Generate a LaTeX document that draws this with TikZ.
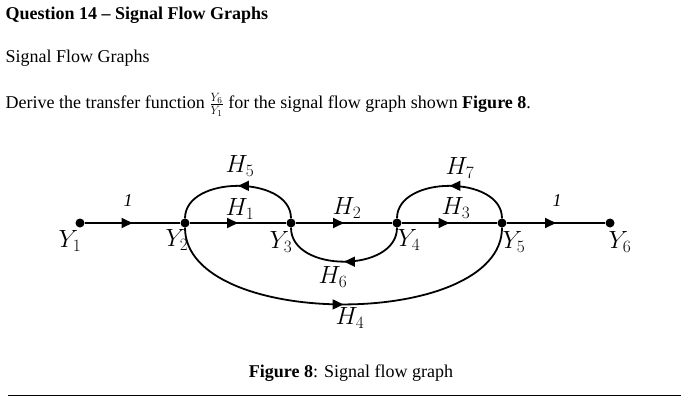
\documentclass[tikz,border=0pt]{standalone}
\usepackage{fontspec}
\setmainfont{Liberation Serif}
\usetikzlibrary{arrows.meta,decorations.markings}
\begin{document}
\begin{tikzpicture}[x=1pt,y=-1pt,
  dot/.style={circle,fill=black,inner sep=0pt,minimum size=9pt},
  br/.style={line width=1.8pt,postaction={decorate},decoration={markings,mark=at position #1 with {\arrow{Triangle[length=11pt,width=10pt]}}}},
  br/.default=0.5,
  lab/.style={font=\fontsize{24}{24}\selectfont\itshape},
  txt/.style={anchor=west,font=\fontsize{18}{21}\selectfont}]
\useasboundingbox (0,0) rectangle (689,400);
\node[txt,font=\fontsize{18}{21}\selectfont\bfseries] (t1) at (2,15) {Question 14 -- Signal Flow Graphs};
\node[txt] (t2) at (2,58) {Signal Flow Graphs};
\node[txt] (t3) at (2,105) {Derive the transfer function $\frac{Y_6}{Y_1}$ for the signal flow graph shown \textbf{Figure 8}.};
\node[txt,anchor=center] (cap) at (351,373) {\textbf{Figure 8}: Signal flow graph};
\draw[line width=0.8pt] (8,395) -- (681,395);
\node[dot] (y1) at (80,223) {};
\node[dot] (y2) at (185,223) {};
\node[dot] (y3) at (291,223) {};
\node[dot] (y4) at (397,223) {};
\node[dot] (y5) at (502,223) {};
\node[dot] (y6) at (610,223) {};
\draw[br] (y1) -- (y2);
\draw[br] (y2) -- (y3);
\draw[br] (y3) -- (y4);
\draw[br] (y4) -- (y5);
\draw[br] (y5) -- (y6);
\draw[br] (y3) .. controls (291,175) and (185,175) .. (y2);
\draw[br] (y5) .. controls (502,175) and (397,175) .. (y4);
\draw[br] (y4) .. controls (397,273) and (291,273) .. (y3);
\draw[br] (y2) .. controls (185,330) and (502,330) .. (y5);
\node[lab,font=\fontsize{18}{18}\selectfont\itshape] (l1a) at (128,201) {1};
\node[lab,font=\fontsize{18}{18}\selectfont\itshape] (l1b) at (557,201) {1};
\node[lab] (h5) at (240,166) {$H_5$};
\node[lab] (h1) at (240,209) {$H_1$};
\node[lab] (h2) at (347,208) {$H_2$};
\node[lab] (h3) at (456,208) {$H_3$};
\node[lab] (h7) at (460,168) {$H_7$};
\node[lab] (h6) at (333,277) {$H_6$};
\node[lab] (h4) at (350,318) {$H_4$};
\node[lab] (ly1) at (70,241) {$Y_1$};
\node[lab] (ly2) at (177,240) {$Y_2$};
\node[lab] (ly3) at (281,242) {$Y_3$};
\node[lab] (ly4) at (409,240) {$Y_4$};
\node[lab] (ly5) at (514,242) {$Y_5$};
\node[lab] (ly6) at (620,242) {$Y_6$};
\end{tikzpicture}
\end{document}
